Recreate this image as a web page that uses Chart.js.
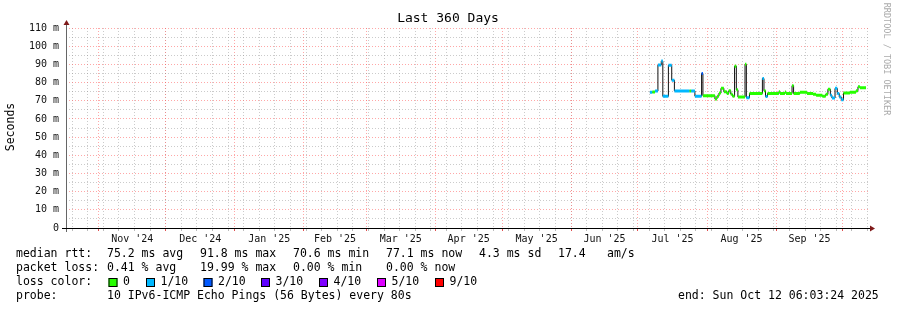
<!DOCTYPE html>
<html lang="en">
<head>
<meta charset="UTF-8">
<title>Last 360 Days</title>
<script src="https://cdn.jsdelivr.net/npm/chart.js"></script>
<style>
  html, body { margin: 0; padding: 0; background: #fff; }
  canvas { display: block; }
</style>
</head>
<body>
<canvas id="chart" width="897" height="310"></canvas>
<script>
// 360 day window ending Sun Oct 12 06:03:24 2025
const START = new Date(2024, 9, 17, 6, 3, 24);
const SPAN_DAYS = 360;

const monthLabels = ["Nov '24", "Dec '24", "Jan '25", "Feb '25", "Mar '25", "Apr '25",
                     "May '25", "Jun '25", "Jul '25", "Aug '25", "Sep '25"];

// median rtt steps: start (days since START), value (ms), lost pings out of 10
const days = [262.1, 263.2, 264.4, 265.7, 267.2, 267.9, 270.4, 271.9, 273.1, 279.9,
              280.6, 282.3, 285.3, 285.9, 291.3, 292.2, 293.1, 294.0, 295.3, 296.6,
              297.5, 298.4, 299.2, 300.1, 300.9, 301.6, 304.8, 305.4, 306.8, 312.6,
              313.3, 314.0, 314.9, 320.0, 320.5, 322.7, 323.2, 325.9, 326.6, 329.4,
              332.6, 335.3, 336.7, 339.5, 341.0, 342.0, 343.1, 343.8, 345.2, 346.2,
              347.1, 348.0, 349.0, 351.9, 354.6, 355.5, 356.4];
const median = [74.6, 74.8, 75.3, 89.6, 91.8, 72.4, 89.5, 81.3, 75.4, 75.4,
                75.4, 72.5, 85.0, 72.8, 70.9, 72.5, 74.2, 76.8, 75.0, 74.0,
                75.5, 73.6, 72.4, 89.0, 76.0, 72.1, 90.0, 71.6, 74.0, 82.2,
                75.5, 72.3, 74.0, 75.0, 74.0, 74.8, 74.0, 78.3, 74.0, 74.6,
                74.0, 73.5, 73.0, 72.5, 73.5, 76.3, 73.0, 71.5, 76.8, 74.0,
                72.0, 70.5, 74.3, 74.6, 75.5, 77.7, 77.2];
const loss = [1, 0, 1, 1, 1, 1, 1, 1, 1, 0,
              1, 1, 2, 0, 0, 0, 0, 0, 0, 0,
              0, 0, 0, 0, 0, 0, 0, 1, 0, 1,
              0, 1, 0, 0, 0, 0, 0, 0, 0, 0,
              0, 0, 0, 0, 0, 0, 1, 1, 1, 1,
              1, 1, 0, 0, 0, 0, 0];
const lastDay = 359.1;

const lossLevels = [0, 1, 2, 3, 4, 5, 9];
const lossLabels = ['0', '1/10', '2/10', '3/10', '4/10', '5/10', '9/10'];
const lossColors = ['#26ff00', '#00b8ff', '#0059ff', '#5e00ff', '#7e00ff', '#dd00ff', '#ff0000'];

const rttSummary = ['75.2 ms avg', '91.8 ms max', '70.6 ms min', '77.1 ms now', '4.3 ms sd', '17.4', 'am/s'];
const lossSummary = ['0.41 % avg', '19.99 % max', '0.00 % min', '0.00 % now'];
const probeText = '10 IPv6-ICMP Echo Pings (56 Bytes) every 80s';
const endText = 'end: Sun Oct 12 06:03:24 2025';

const MONO = '"DejaVu Sans Mono", monospace';
const RED_GRID = 'rgba(255, 95, 95, 0.55)';
const GRAY_GRID = 'rgba(140, 140, 140, 0.45)';

function dayOf(date) {
    return (date - START) / 86400000;
}

// x ticks: weekly minor lines, month start lines, mid month labels
const xTicks = [];
for (let t = new Date(2024, 9, 20); dayOf(t) < SPAN_DAYS; t.setDate(t.getDate() + 7)) {
    xTicks.push({ value: dayOf(t), kind: 'week' });
}
const monthStarts = [];
for (let i = 0; i <= monthLabels.length; i++) {
    monthStarts.push(dayOf(new Date(2024, 10 + i, 1)));
}
monthStarts.forEach(d => xTicks.push({ value: d, kind: 'month' }));
monthLabels.forEach((label, i) => {
    xTicks.push({ value: (monthStarts[i] + monthStarts[i + 1]) / 2, kind: 'label', text: label });
});

// black stepped median
const stepPoints = days.map((d, i) => ({ x: d, y: median[i] }));
stepPoints.push({ x: lastDay, y: median[median.length - 1] });

// coloured flat pieces, one dataset per loss level
function lossPieces(level) {
    const pts = [];
    days.forEach((d, i) => {
        if (loss[i] !== level) return;
        const end = i + 1 < days.length ? days[i + 1] : lastDay;
        pts.push({ x: d, y: median[i] }, { x: end, y: median[i] }, { x: end, y: null });
    });
    return pts;
}

const datasets = [{
    data: stepPoints,
    stepped: 'before',
    borderColor: '#111',
    borderWidth: 1,
    pointRadius: 0,
    order: 2
}];
lossLevels.forEach((lvl, i) => {
    const pts = lossPieces(lvl);
    if (!pts.length) return;
    datasets.push({
        data: pts,
        borderColor: lossColors[i],
        borderWidth: 3,
        borderCapStyle: 'butt',
        pointRadius: 0,
        spanGaps: false,
        order: 1
    });
});

const overlay = {
    id: 'overlay',
    afterDraw(chart) {
        const ctx = chart.ctx;
        const { left, right, top, bottom } = chart.chartArea;
        ctx.save();

        // axes
        ctx.lineWidth = 1;
        ctx.strokeStyle = '#666';
        ctx.beginPath();
        ctx.moveTo(left + 0.5, top - 3);
        ctx.lineTo(left + 0.5, bottom + 4);
        ctx.stroke();
        ctx.strokeStyle = '#000';
        ctx.beginPath();
        ctx.moveTo(left - 4, bottom + 0.5);
        ctx.lineTo(right + 2, bottom + 0.5);
        ctx.stroke();

        ctx.fillStyle = '#7f1a1a';
        ctx.beginPath();
        ctx.moveTo(left + 0.5, top - 8);
        ctx.lineTo(left - 2.5, top - 3);
        ctx.lineTo(left + 3.5, top - 3);
        ctx.closePath();
        ctx.fill();
        ctx.beginPath();
        ctx.moveTo(right + 7, bottom + 0.5);
        ctx.lineTo(right + 2, bottom - 2.5);
        ctx.lineTo(right + 2, bottom + 3.5);
        ctx.closePath();
        ctx.fill();

        // title and side labels
        ctx.fillStyle = '#000';
        ctx.textBaseline = 'middle';
        ctx.textAlign = 'center';
        ctx.font = '13px ' + MONO;
        ctx.fillText('Last 360 Days', 448, 19);

        ctx.save();
        ctx.translate(11, 127);
        ctx.rotate(-Math.PI / 2);
        ctx.font = '11.5px ' + MONO;
        ctx.fillText('Seconds', 0, 0);
        ctx.restore();

        ctx.save();
        ctx.translate(886, 59);
        ctx.rotate(Math.PI / 2);
        ctx.font = '8.5px ' + MONO;
        ctx.fillStyle = '#aaa';
        ctx.fillText('RRDTOOL / TOBI OETIKER', 0, 0);
        ctx.restore();

        // legend block
        ctx.textAlign = 'left';
        ctx.font = '11.5px ' + MONO;
        const rows = [254.5, 268.5, 282.5, 296.5];
        const colX = [107, 200, 293, 386, 479, 558, 607];
        ctx.fillText('median rtt:', 16, rows[0]);
        rttSummary.forEach((s, i) => ctx.fillText(s, colX[i], rows[0]));
        ctx.fillText('packet loss:', 16, rows[1]);
        lossSummary.forEach((s, i) => ctx.fillText(s, colX[i], rows[1]));
        ctx.fillText('loss color:', 16, rows[2]);
        const boxX = [108.5, 146, 203.5, 261, 319, 377, 435];
        lossLabels.forEach((s, i) => {
            ctx.fillStyle = lossColors[i];
            ctx.fillRect(boxX[i], rows[2] - 4.5, 9, 9);
            ctx.strokeStyle = '#000';
            ctx.strokeRect(boxX[i] + 0.5, rows[2] - 4, 8, 8);
            ctx.fillStyle = '#000';
            ctx.fillText(s, boxX[i] + 14.5, rows[2]);
        });
        ctx.fillText('probe:', 16, rows[3]);
        ctx.fillText(probeText, 107, rows[3]);
        ctx.fillText(endText, 678, rows[3]);
        ctx.restore();
    }
};

new Chart(document.getElementById('chart'), {
    type: 'line',
    data: { datasets },
    options: {
        responsive: false,
        animation: false,
        devicePixelRatio: 1,
        layout: { padding: { left: 0, right: 29, top: 28, bottom: 0 } },
        plugins: { legend: { display: false }, tooltip: { enabled: false } },
        scales: {
            x: {
                type: 'linear',
                min: 0,
                max: SPAN_DAYS,
                afterBuildTicks: s => { s.ticks = xTicks.map(t => Object.assign({}, t)); },
                afterFit: s => { s.height = 82; },
                ticks: {
                    autoSkip: false,
                    maxRotation: 0,
                    minRotation: 0,
                    padding: 2,
                    color: '#111',
                    font: { family: MONO, size: 10 },
                    callback: (v, i, ticks) => ticks[i].text || ''
                },
                grid: {
                    color: c => c.tick.kind === 'month' ? RED_GRID : (c.tick.kind === 'week' ? GRAY_GRID : 'rgba(0,0,0,0)'),
                    tickColor: c => c.tick.kind === 'month' ? '#e05050' : (c.tick.kind === 'week' ? '#bbb' : 'rgba(0,0,0,0)'),
                    tickLength: 3,
                    lineWidth: 1
                },
                border: { display: false, dash: [1, 2] }
            },
            y: {
                min: 0,
                max: 110,
                afterFit: s => { s.width = 66; },
                ticks: {
                    stepSize: 5,
                    maxTicksLimit: 40,
                    autoSkip: false,
                    padding: 7,
                    color: '#111',
                    font: { family: MONO, size: 10 },
                    callback: v => v % 10 ? '' : (v === 0 ? '0' : v + ' m')
                },
                grid: {
                    color: c => c.tick.value % 10 === 0 ? RED_GRID : GRAY_GRID,
                    drawTicks: false,
                    lineWidth: 1
                },
                border: { display: false, dash: [1, 2] }
            }
        }
    },
    plugins: [overlay]
});
</script>
</body>
</html>
